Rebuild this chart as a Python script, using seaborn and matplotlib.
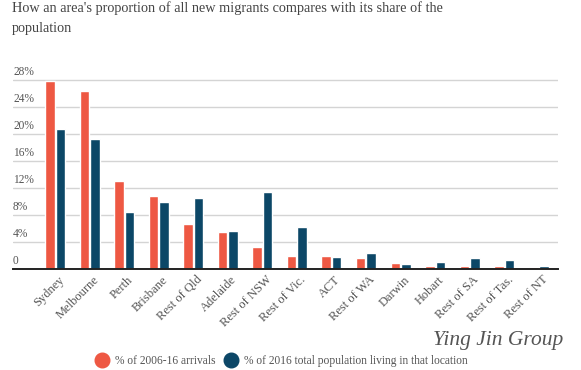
import matplotlib
matplotlib.use("Agg")
import matplotlib.pyplot as plt
from matplotlib.transforms import ScaledTranslation
from matplotlib.lines import Line2D
import seaborn as sns
import pandas as pd
import numpy as np

regions = ["Sydney", "Melbourne", "Perth", "Brisbane", "Rest of Qld", "Adelaide",
           "Rest of NSW", "Rest of Vic.", "ACT", "Rest of WA", "Darwin", "Hobart",
           "Rest of SA", "Rest of Tas.", "Rest of NT"]
arrivals = [27.8, 26.4, 13.1, 10.8, 6.7, 5.5, 3.3, 2.0, 1.9, 1.6, 0.9, 0.5, 0.5, 0.4, 0.3]
population = [20.8, 19.3, 8.5, 9.9, 10.5, 5.6, 11.4, 6.2, 1.8, 2.3, 0.7, 1.1, 1.7, 1.3, 0.5]
series_names = ["% of 2006-16 arrivals", "% of 2016 total population living in that location"]
yticks = [0, 4, 8, 12, 16, 20, 24, 28]
ytick_labels = ["0", "4%", "8%", "12%", "16%", "20%", "24%", "28%"]
title = "How an area's proportion of all new migrants compares with its share of the\npopulation"

colors = ["#ee5843", "#0c4767"]
text_col = "#555555"

df = pd.DataFrame({
    "region": regions * 2,
    "value": arrivals + population,
    "series": [series_names[0]] * len(regions) + [series_names[1]] * len(regions),
})

sns.set_theme(style="white")
plt.rcParams["font.family"] = ["Liberation Serif", "DejaVu Serif"]

fig = plt.figure(figsize=(5.81, 3.70), dpi=100)
W, H = 581, 370
ax = fig.add_axes([13 / W, 1 - 269 / H, (558 - 13) / W, (269 - 70) / H])

sns.barplot(data=df, x="region", y="value", hue="series", order=regions,
            hue_order=series_names, palette=colors, width=0.61, gap=0.1,
            saturation=1, ax=ax, legend=False)

ax.set_xlim(-1.22, 14.56)
ax.set_ylim(0, 29.5)
ax.set_xlabel("")
ax.set_ylabel("")

for s in ["top", "right", "left"]:
    ax.spines[s].set_visible(False)
ax.spines["bottom"].set_color("#222222")
ax.spines["bottom"].set_linewidth(1.4)

ax.set_yticks(yticks)
ax.set_yticklabels(ytick_labels)
ax.tick_params(axis="y", length=0, pad=0, labelsize=8.3, labelcolor=text_col)
for lab in ax.get_yticklabels():
    lab.set_horizontalalignment("left")
    lab.set_verticalalignment("bottom")
    lab.set_transform(lab.get_transform() + ScaledTranslation(0, 2 / 100, fig.dpi_scale_trans))
ax.yaxis.grid(True, color="#d4d4d4", linewidth=1.0)
ax.set_axisbelow(True)

# tick marks at category boundaries
ax.set_xticks(np.arange(-0.5, len(regions), 1.0), minor=True)
ax.tick_params(axis="x", which="minor", length=6, width=1.0, color="#333333", direction="out")
ax.tick_params(axis="x", which="major", length=0, pad=2, labelsize=9, labelcolor=text_col)
ax.set_xticks(range(len(regions)))
ax.set_xticklabels(regions, rotation=45, ha="right", rotation_mode="anchor")
for lab in ax.get_xticklabels():
    lab.set_transform(lab.get_transform() + ScaledTranslation(3 / 100, -2 / 100, fig.dpi_scale_trans))

fig.text(12 / W, 1 - 1 / H, title, ha="left", va="top", fontsize=10.3, color="#444444",
         linespacing=1.75)

handles = [Line2D([0], [0], marker="o", linestyle="", markersize=10.5,
                  markerfacecolor=c, markeredgecolor=c) for c in colors]
leg = fig.legend(handles, series_names, loc="center", bbox_to_anchor=(282 / W, 1 - 361 / H),
                 ncol=2, frameon=False, fontsize=8.3, handletextpad=0.6, columnspacing=0.9,
                 handlelength=1.0)
for t in leg.get_texts():
    t.set_color(text_col)

fig.text(498 / W, 1 - 341 / H, "Ying Jin Group", ha="center", va="center", fontsize=15.5,
         style="italic", color="#555555")

fig.savefig("out.png", dpi=100)
